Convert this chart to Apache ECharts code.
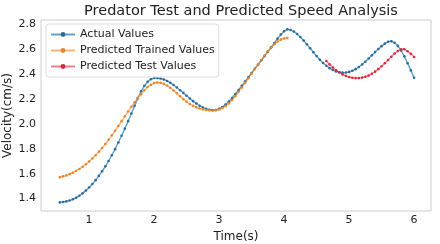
<!DOCTYPE html>
<html>
<head>
<meta charset="utf-8">
<script src="https://cdn.jsdelivr.net/npm/echarts@6/dist/echarts.min.js"></script>
<style>
  html, body { margin: 0; padding: 0; background: #fff; }
  #chart { width: 440px; height: 244px; }
</style>
</head>
<body>
<div id="chart"></div>
<script>
  // time axis (s) for the actual curve, step 0.05
  var actualTime = [
    0.55, 0.60, 0.65, 0.70, 0.75, 0.80, 0.85, 0.90, 0.95, 1.00,
    1.05, 1.10, 1.15, 1.20, 1.25, 1.30, 1.35, 1.40, 1.45, 1.50,
    1.55, 1.60, 1.65, 1.70, 1.75, 1.80, 1.85, 1.90, 1.95, 2.00,
    2.05, 2.10, 2.15, 2.20, 2.25, 2.30, 2.35, 2.40, 2.45, 2.50,
    2.55, 2.60, 2.65, 2.70, 2.75, 2.80, 2.85, 2.90, 2.95, 3.00,
    3.05, 3.10, 3.15, 3.20, 3.25, 3.30, 3.35, 3.40, 3.45, 3.50,
    3.55, 3.60, 3.65, 3.70, 3.75, 3.80, 3.85, 3.90, 3.95, 4.00,
    4.05, 4.10, 4.15, 4.20, 4.25, 4.30, 4.35, 4.40, 4.45, 4.50,
    4.55, 4.60, 4.65, 4.70, 4.75, 4.80, 4.85, 4.90, 4.95, 5.00,
    5.05, 5.10, 5.15, 5.20, 5.25, 5.30, 5.35, 5.40, 5.45, 5.50,
    5.55, 5.60, 5.65, 5.70, 5.75, 5.80, 5.85, 5.90, 5.95, 6.00
  ];
  var actualValues = [
    1.369, 1.372, 1.377, 1.384, 1.394, 1.407, 1.423, 1.442, 1.464, 1.489,
    1.517, 1.548, 1.582, 1.619, 1.659, 1.702, 1.748, 1.797, 1.850, 1.905,
    1.962, 2.022, 2.083, 2.145, 2.207, 2.262, 2.306, 2.338, 2.359, 2.369,
    2.369, 2.365, 2.357, 2.345, 2.330, 2.313, 2.293, 2.271, 2.249, 2.226,
    2.204, 2.183, 2.164, 2.146, 2.132, 2.121, 2.114, 2.110, 2.112, 2.121,
    2.136, 2.155, 2.180, 2.208, 2.240, 2.273, 2.307, 2.341, 2.375, 2.409,
    2.443, 2.477, 2.511, 2.545, 2.580, 2.615, 2.650, 2.685, 2.718, 2.745,
    2.760, 2.755, 2.742, 2.722, 2.698, 2.670, 2.640, 2.608, 2.576, 2.545,
    2.516, 2.490, 2.467, 2.448, 2.433, 2.422, 2.415, 2.412, 2.413, 2.418,
    2.427, 2.440, 2.457, 2.477, 2.500, 2.525, 2.551, 2.577, 2.602, 2.625,
    2.645, 2.660, 2.664, 2.652, 2.627, 2.590, 2.543, 2.488, 2.430, 2.370
  ];

  // trained prediction covers 0.55 .. 4.05 s
  var trainedTime = actualTime.slice(0, 71);
  var trainedValues = [
    1.572, 1.578, 1.586, 1.596, 1.608, 1.622, 1.638, 1.656, 1.676, 1.698,
    1.722, 1.748, 1.776, 1.806, 1.838, 1.872, 1.908, 1.945, 1.983, 2.022,
    2.061, 2.100, 2.138, 2.174, 2.207, 2.238, 2.270, 2.296, 2.315, 2.328,
    2.333, 2.330, 2.322, 2.308, 2.290, 2.269, 2.246, 2.222, 2.199, 2.178,
    2.160, 2.145, 2.133, 2.124, 2.117, 2.112, 2.109, 2.108, 2.110, 2.116,
    2.127, 2.143, 2.165, 2.192, 2.223, 2.257, 2.293, 2.330, 2.367, 2.404,
    2.441, 2.478, 2.514, 2.549, 2.583, 2.614, 2.641, 2.662, 2.677, 2.686,
    2.690
  ];

  // test prediction covers 4.65 .. 6.00 s
  var testTime = actualTime.slice(82);
  var testValues = [
    2.505, 2.478, 2.453, 2.431, 2.413, 2.398, 2.386, 2.377, 2.371, 2.368,
    2.368, 2.372, 2.379, 2.389, 2.403, 2.420, 2.440, 2.463, 2.488, 2.514,
    2.540, 2.565, 2.586, 2.600, 2.600, 2.584, 2.563, 2.538
  ];

  var xTicks = [1, 2, 3, 4, 5, 6];
  var yTicks = [1.4, 1.6, 1.8, 2.0, 2.2, 2.4, 2.6, 2.8];

  function pairs(xs, ys) {
    var out = [];
    for (var i = 0; i < ys.length; i++) {
      out.push([xs[i], ys[i]]);
    }
    return out;
  }

  // one line + dot series
  function makeSeries(name, color, lineColor, xs, ys) {
    return {
      name: name,
      type: 'line',
      data: pairs(xs, ys),
      symbol: 'circle',
      symbolSize: 2.6,
      showSymbol: true,
      itemStyle: { color: color },
      lineStyle: { color: lineColor, width: 1.4 },
      animation: false
    };
  }

  var myChart = echarts.init(document.getElementById('chart'));

  myChart.setOption({
    backgroundColor: '#ffffff',
    textStyle: { fontFamily: 'DejaVu Sans' },
    title: {
      text: 'Predator Test and Predicted Speed Analysis',
      left: 236,
      textAlign: 'center',
      top: -1,
      textStyle: { fontSize: 14.5, fontWeight: 'normal', color: '#222', fontFamily: 'DejaVu Sans' }
    },
    legend: {
      orient: 'vertical',
      left: 46,
      top: 24,
      itemGap: 5,
      itemWidth: 24,
      itemHeight: 6,
      padding: [5, 4, 5, 4],
      backgroundColor: 'rgba(255,255,255,0.85)',
      borderColor: '#dddddd',
      borderWidth: 1,
      borderRadius: 3,
      textStyle: { fontSize: 11, color: '#222', fontFamily: 'DejaVu Sans' },
      data: ['Actual Values', 'Predicted Trained Values', 'Predicted Test Values']
    },
    grid: {
      left: 41,
      right: 9,
      top: 20,
      bottom: 33,
      outerBoundsMode: 'none',
      containLabel: false,
      show: true,
      borderColor: '#cccccc',
      borderWidth: 1
    },
    xAxis: {
      type: 'value',
      min: 0.26,
      max: 6.26,
      name: 'Time(s)',
      nameLocation: 'middle',
      nameGap: 20,
      nameMoveOverlap: false,
      nameTextStyle: { fontSize: 12, color: '#222' },
      axisLine: { show: false },
      axisTick: { show: false },
      splitLine: { show: false },
      axisLabel: {
        customValues: xTicks,
        fontSize: 11,
        color: '#222',
        margin: 4,
        formatter: function (v) { return String(Math.round(v)); }
      }
    },
    yAxis: {
      type: 'value',
      min: 1.30,
      max: 2.835,
      name: 'Velocity(cm/s)',
      nameLocation: 'middle',
      nameGap: 27,
      nameMoveOverlap: false,
      nameTextStyle: { fontSize: 12, color: '#222' },
      axisLine: { show: false },
      axisTick: { show: false },
      splitLine: { show: false },
      axisLabel: {
        customValues: yTicks,
        fontSize: 11,
        color: '#222',
        margin: 5,
        formatter: function (v) { return v.toFixed(1); }
      }
    },
    series: [
      makeSeries('Actual Values', '#2c6b9a', 'rgba(31,119,180,0.7)', actualTime, actualValues),
      makeSeries('Predicted Trained Values', '#e8862a', 'rgba(255,127,14,0.6)', trainedTime, trainedValues),
      makeSeries('Predicted Test Values', '#d8283a', 'rgba(240,40,60,0.6)', testTime, testValues)
    ]
  });
</script>
</body>
</html>
